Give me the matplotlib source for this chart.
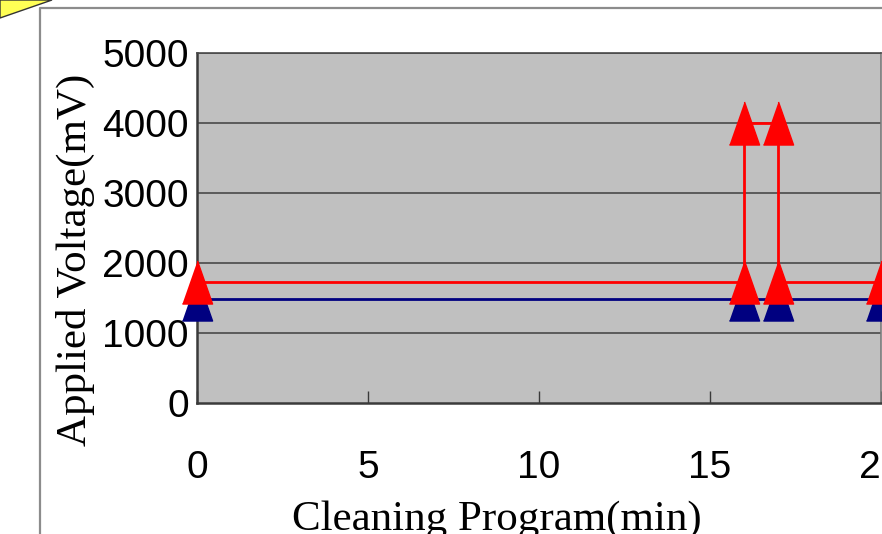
import matplotlib
matplotlib.use('Agg')
import matplotlib.pyplot as plt
from matplotlib.lines import Line2D
from matplotlib.patches import Polygon

W, H = 882, 534

# cleaning program: two voltage traces
time_red = [0, 16, 16, 17, 17, 20]
volt_red = [1730, 1730, 4000, 4000, 1730, 1730]
time_blue = [0, 16, 17, 20]
volt_blue = [1490, 1490, 1490, 1490]

x_ticks = [0, 5, 10, 15, 20]
y_ticks = [0, 1000, 2000, 3000, 4000, 5000]


def fx(px):
    return px / W


def fy(py):
    # py measured from the top edge
    return 1 - py / H


fig = plt.figure(figsize=(W / 100, H / 100), dpi=100)

# slide frame and the corner of the callout shape
fig.add_artist(Line2D([fx(40), fx(40), 1.0], [0.0, fy(8), fy(8)],
                      transform=fig.transFigure, color='#8c8c8c', lw=1.6))
fig.add_artist(Polygon([[0, 1], [fx(52), 1], [0, fy(18)]], closed=True,
                       transform=fig.transFigure, facecolor='#ffff55',
                       edgecolor='#333333', lw=1.0))

ax = fig.add_axes([fx(197), fy(403), fx(881 - 197), (403 - 53) / H])
ax.set_facecolor('#c0c0c0')
ax.set_xlim(0, 20)
ax.set_ylim(0, 5000)

for v in y_ticks[1:]:
    ax.axhline(v, color='#4a4a4a', lw=1.2, zorder=1)

tri = [(-0.7, -1), (0.7, -1), (0, 1)]
ax.plot(time_blue, volt_blue, color='#000080', lw=2, marker=tri, ms=31,
        mec='#000080', mfc='#000080', clip_on=False, zorder=3)
ax.plot(time_red, volt_red, color='#ff0000', lw=2, marker=tri, ms=31,
        mec='#ff0000', mfc='#ff0000', clip_on=False, zorder=4)

for side in ('left', 'bottom'):
    ax.spines[side].set_color('#3a3a3a')
    ax.spines[side].set_linewidth(1.8)
ax.spines['top'].set_color('#4a4a4a')
ax.spines['top'].set_linewidth(1.2)
ax.spines['right'].set_color('#7a7a7a')
ax.spines['right'].set_linewidth(1.2)

ax.set_xticks(x_ticks)
ax.set_yticks(y_ticks)
ax.tick_params(axis='x', direction='in', length=9, width=1, color='#3a3a3a',
               pad=34, labelsize=28)
ax.tick_params(axis='y', length=0, pad=6, labelsize=28)
for lab in ax.get_xticklabels() + ax.get_yticklabels():
    lab.set_fontfamily('Liberation Sans')

fig.text(fx(497), fy(530), 'Cleaning Program(min)', ha='center', va='baseline',
         fontfamily='Liberation Serif', fontsize=31)
fig.text(fx(75), fy(260), 'Applied Voltage(mV)', ha='center', va='center',
         rotation=90, fontfamily='Liberation Serif', fontsize=31)

fig.savefig('out.png', dpi=100)
